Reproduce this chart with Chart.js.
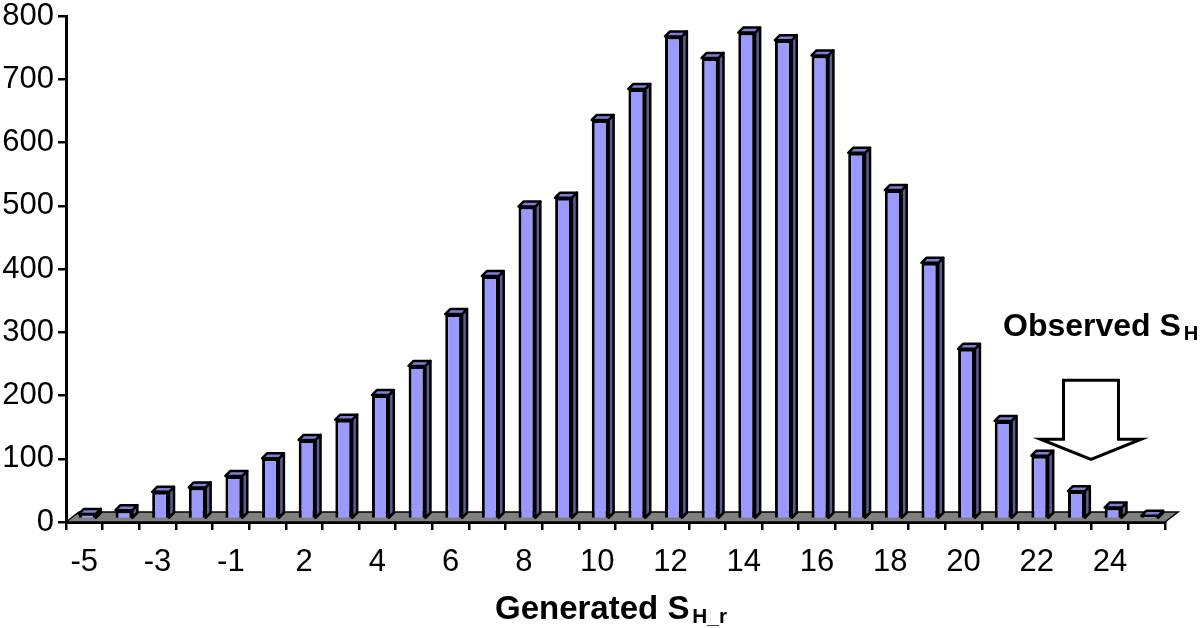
<!DOCTYPE html>
<html><head><meta charset="utf-8">
<style>
html,body{margin:0;padding:0;background:#fff;width:1200px;height:628px;overflow:hidden}
#wrap{position:relative;width:1200px;height:628px}
canvas{position:absolute;left:0;top:0}
.lbl{position:absolute;font-family:"Liberation Sans",Arial,sans-serif;font-weight:bold;color:#000;white-space:nowrap;line-height:1}
.lbl sub{font-size:.63em;vertical-align:baseline;position:relative;top:.2em;margin-left:.14em}
</style>
<script src="https://cdn.jsdelivr.net/npm/chart.js@4"></script>
</head><body><div id="wrap">
<canvas id="c" width="1200" height="628"></canvas>
<div class="lbl" style="left:1003px;top:309px;font-size:32px">Observed S<sub>H</sub></div>
<div class="lbl" style="left:495px;top:591px;font-size:33px">Generated S<sub>H_r</sub></div>
</div>
<script>
const categories = ['-5','-4','-3','-2','-1','0','2','3','4','5','6','7','8','9','10','11','12','13','14','15','16','17','18','19','20','21','22','23','24','25'];
const shownLabels = ['-5','-3','-1','2','4','6','8','10','12','14','16','18','20','22','24'];
const counts = [8,14,43,50,68,96,125,157,196,242,324,384,494,508,631,680,763,729,769,757,733,579,520,405,269,155,100,44,18,5];
const yTicks = [0,100,200,300,400,500,600,700,800];
// arrow outline expressed in chart units: [category index, value]
const arrowIdx = [26.73,28.23,28.23,28.85,27.48,26.1,26.73];
const arrowVal = [224,224,131,131,99,131,131];

const depth = {dx:5,dy:5,ox:3,oy:-3};
const floorDepth = {dx:13,dy:10};

const threeD = {
  id:'threeD',
  beforeDatasetsDraw(chart){
    const {ctx,chartArea:a} = chart;
    ctx.save();
    ctx.fillStyle='#808080';ctx.strokeStyle='#000';ctx.lineWidth=1.5;
    ctx.beginPath();
    ctx.moveTo(a.left,a.bottom);
    ctx.lineTo(a.left+floorDepth.dx,a.bottom-floorDepth.dy);
    ctx.lineTo(a.right+floorDepth.dx,a.bottom-floorDepth.dy);
    ctx.lineTo(a.right,a.bottom);
    ctx.closePath();ctx.fill();ctx.stroke();
    ctx.restore();
    ctx.save();
    ctx.translate(depth.ox,depth.oy);
  },
  afterDatasetsDraw(chart){
    const {ctx} = chart;
    chart.getDatasetMeta(0).data.forEach(el=>{
      const l=el.x-el.width/2,r=el.x+el.width/2,t=el.y,b=el.base;
      ctx.lineWidth=2.5;ctx.strokeStyle='#000';ctx.lineJoin='round';
      ctx.fillStyle='#5c5c96';
      ctx.beginPath();ctx.moveTo(r,t);ctx.lineTo(r+depth.dx,t-depth.dy);ctx.lineTo(r+depth.dx,b-depth.dy);ctx.lineTo(r,b);ctx.closePath();ctx.fill();ctx.stroke();
      ctx.fillStyle='#7f7fd6';
      ctx.beginPath();ctx.moveTo(l,t);ctx.lineTo(l+depth.dx,t-depth.dy);ctx.lineTo(r+depth.dx,t-depth.dy);ctx.lineTo(r,t);ctx.closePath();ctx.fill();ctx.stroke();
    });
    ctx.restore();
    const xs=chart.scales.x,ys=chart.scales.y;
    ctx.save();
    ctx.fillStyle='#fff';ctx.strokeStyle='#000';ctx.lineWidth=3;ctx.lineJoin='miter';
    ctx.beginPath();
    arrowIdx.forEach((v,i)=>{
      const x=xs.getPixelForValue(v),y=ys.getPixelForValue(arrowVal[i]);
      if(i)ctx.lineTo(x,y);else ctx.moveTo(x,y);
    });
    ctx.closePath();ctx.fill();ctx.stroke();
    ctx.restore();
  }
};

new Chart(document.getElementById('c'),{
  type:'bar',
  data:{labels:categories,datasets:[{data:counts,backgroundColor:'#9999ff',borderColor:'#000',borderWidth:3,categoryPercentage:1,barPercentage:0.46}]},
  options:{
    responsive:false,animation:false,
    layout:{padding:{left:0,right:35,top:16,bottom:0}},
    plugins:{legend:{display:false},title:{display:false},tooltip:{enabled:false}},
    scales:{
      x:{
        afterFit(s){s.height=106;s.paddingLeft=0;s.paddingRight=0;},
        border:{color:'#000',width:3},
        grid:{drawOnChartArea:false,color:'#000',lineWidth:2.5,tickLength:8},
        ticks:{autoSkip:false,maxRotation:0,minRotation:0,padding:14,color:'#000',
          font:{family:'"Liberation Sans"',size:31},
          callback(v){const l=this.getLabelForValue(v);return shownLabels.includes(l)?l:'';}}
      },
      y:{
        min:0,max:800,
        afterFit(s){s.width=66;s.paddingTop=0;s.paddingBottom=0;},
        afterBuildTicks(s){s.ticks=yTicks.map(v=>({value:v}));},
        border:{color:'#000',width:3},
        grid:{drawOnChartArea:false,color:'#000',lineWidth:2.5,tickLength:8},
        ticks:{padding:4,color:'#000',font:{family:'"Liberation Sans"',size:31}}
      }
    }
  },
  plugins:[threeD]
});
</script></body></html>
